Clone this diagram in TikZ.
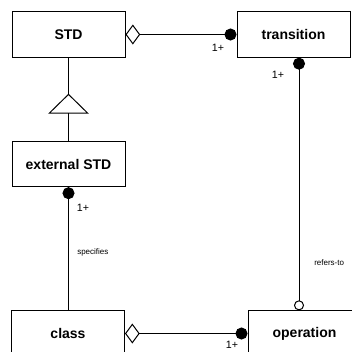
\documentclass[tikz,border=0pt]{standalone}
\usepackage{fontspec}
\setmainfont{Liberation Sans}
\usetikzlibrary{arrows.meta}
\usetikzlibrary{calc}

\begin{document}
\begin{tikzpicture}[x=0.75pt,y=0.75pt,yscale=-1,xscale=1,
  classbox/.style={draw,line width=0.75pt,minimum width=84.75pt,minimum height=34pt,inner sep=0pt,font=\fontsize{10.5}{12}\selectfont\bfseries},
  mult/.style={inner sep=0.75pt,font=\fontsize{8}{9}\selectfont},
  rolename/.style={inner sep=0.75pt,font=\fontsize{6}{7}\selectfont},
  aggr/.style={line width=0.75pt,{Diamond[open,length=11pt,width=15pt]}-{Circle[length=9pt]}}]
\useasboundingbox (0,0) rectangle (352,351);

%Shape: Rectangle [STD]
\node[classbox] (std) at (68.5,34.5) {STD};
%Shape: Rectangle [transition]
\node[classbox] (transition) at (293.5,34.5) {transition};
%Shape: Rectangle [external STD]
\node[classbox] (extstd) at (68.5,164) {external STD};
%Shape: Rectangle [class]
\node[classbox] (class) at (68,333.5) {class};
%Shape: Rectangle [operation]
\node[classbox] (operation) at (304.5,333.5) {operation};

%Straight Lines [aggregation STD - transition]
\draw[aggr] (std.east) -- (transition.west);
%Straight Lines [aggregation class - operation]
\draw[aggr] (class.east) -- (operation.west);
%Straight Lines [generalization]
\coordinate (gtip) at ($(std.south)+(0,36)$);
\draw[line width=0.75pt] (std.south) -- (gtip);
\draw[line width=0.75pt,-{Triangle[open,length=15pt,width=30.5pt]}] (extstd.north) -- (gtip);
%Straight Lines [specifies]
\draw[line width=0.75pt,{Circle[length=9pt]}-] (extstd.south) -- (extstd.south |- class.north);
%Straight Lines [refers-to]
\draw[line width=0.75pt,{Circle[length=9pt]}-{Circle[open,length=7.5pt]}] ($(transition.south)+(5.5,0)$) -- ($(operation.north)+(-5.5,0)$);

% Text Node
\node[mult] (m1) at (218,48) {1+};
% Text Node
\node[mult] (m2) at (278,75) {1+};
% Text Node
\node[mult] (m3) at (83,208) {1+};
% Text Node
\node[mult] (m4) at (232,345) {1+};
% Text Node
\node[rolename,anchor=west] (spec) at (76,252) {specifies};
% Text Node
\node[rolename,anchor=west] (refs) at (313,263) {refers-to};
\end{tikzpicture}
\end{document}
